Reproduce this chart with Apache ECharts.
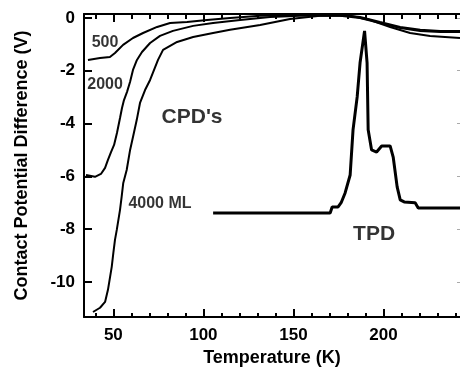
<!DOCTYPE html>
<html>
<head>
<meta charset="utf-8">
<script src="https://cdn.jsdelivr.net/npm/echarts@6/dist/echarts.min.js"></script>
<style>
html,body{margin:0;padding:0;background:#fff;}
#chart{width:460px;height:375px;}
</style>
</head>
<body>
<div id="chart"></div>
<script>
// Temperature (K) and CPD (V) readings
var cpd500T = [35.9, 42.6, 48.1, 50.9, 55.4, 60.9, 66.5, 74.3, 81.5, 90.9, 102.0, 114.8, 131.5, 153.7, 175.9, 187.0, 198.1, 209.3, 220.4, 231.5, 242.5];
var cpd500V = [-1.59, -1.52, -1.48, -1.33, -1.02, -0.76, -0.57, -0.34, -0.19, -0.15, -0.08, 0.0, 0.08, 0.11, 0.11, 0.04, -0.15, -0.34, -0.45, -0.49, -0.49];

var cpd2000T = [34.8, 39.8, 43.1, 45.4, 47.0, 48.7, 50.4, 52.0, 53.7, 54.8, 55.9, 57.6, 59.3, 60.9, 63.1, 65.9, 70.4, 75.9, 83.1, 94.3, 105.4, 120.4, 137.0, 153.7, 175.9, 187.0, 198.1, 209.3, 220.4, 231.5, 242.5];
var cpd2000V = [-5.95, -6.02, -5.91, -5.68, -5.38, -5.08, -4.81, -4.36, -3.79, -3.41, -3.11, -2.80, -2.42, -1.97, -1.59, -1.29, -0.95, -0.68, -0.49, -0.30, -0.19, -0.08, 0.04, 0.08, 0.08, 0.0, -0.19, -0.38, -0.49, -0.53, -0.53];

var cpd4000T = [38.7, 42.6, 45.4, 47.0, 49.1, 50.0, 50.9, 51.9, 53.7, 54.6, 55.5, 57.4, 59.3, 60.9, 63.0, 64.8, 67.6, 70.4, 74.8, 77.6, 85.4, 94.3, 105.4, 114.8, 131.5, 148.1, 164.8, 181.5, 192.6, 203.7, 214.8, 225.9, 242.5];
var cpd4000V = [-11.14, -10.98, -10.76, -10.30, -9.43, -8.90, -8.41, -8.03, -7.27, -6.78, -6.25, -5.76, -5.0, -4.51, -3.86, -3.22, -2.73, -2.35, -1.59, -1.21, -0.91, -0.72, -0.57, -0.45, -0.27, -0.04, 0.08, 0.08, -0.08, -0.34, -0.57, -0.68, -0.76];

var tpdT = [105.4, 170.4, 171.5, 174.8, 176.5, 178.7, 181.5, 183.1, 185.4, 187.0, 189.5, 190.9, 191.5, 193.4, 196.2, 199.0, 203.7, 205.4, 207.6, 209.3, 211.5, 217.6, 219.3, 242.5];
var tpdV = [-7.39, -7.39, -7.16, -7.16, -7.0, -6.63, -5.95, -4.24, -2.99, -1.70, -0.49, -1.70, -4.24, -5.0, -5.08, -4.85, -4.85, -5.27, -6.40, -6.89, -6.97, -7.0, -7.2, -7.2];

var xMajorTicks = [50, 100, 150, 200];
var xMinorTicks = [40, 60, 70, 80, 90, 110, 120, 130, 140, 160, 170, 180, 190, 210, 220, 230, 240];
var yMajorTicks = [-10, -8, -6, -4, -2, 0];

var annoText = ['500', '2000', '4000 ML'];
var annoT = [45.4, 45.4, 75.9];
var annoV = [-0.95, -2.54, -7.05];
var bigText = ['CPD\'s', 'TPD'];
var bigT = [93.7, 194.8];
var bigV = [-3.75, -8.18];

function zip(a, b) { return a.map(function (v, i) { return [v, b[i]]; }); }

var X_MIN = 33.7, X_MAX = 242.5, Y_MIN = -11.33, Y_MAX = 0.15;
var FONT = 'Liberation Sans, Arial, sans-serif';

function xAx(pos, ticks, len, showLine, showLabel, name) {
  return {
    type: 'value', position: pos, min: X_MIN, max: X_MAX,
    splitLine: { show: false },
    axisLine: { show: showLine, onZero: false, lineStyle: { color: '#000', width: 2 } },
    axisTick: { show: true, inside: true, length: len, customValues: ticks, lineStyle: { color: '#000', width: 2 } },
    axisLabel: { show: showLabel, customValues: ticks, color: '#000', fontFamily: FONT, fontWeight: 'bold', fontSize: 17, margin: 10 },
    name: name || '', nameLocation: 'middle', nameGap: 32,
    nameTextStyle: { color: '#000', fontFamily: FONT, fontWeight: 'bold', fontSize: 18 }
  };
}

var chart = echarts.init(document.getElementById('chart'));
chart.setOption({
  animation: false,
  backgroundColor: '#fff',
  grid: { left: 84, top: 14, right: 0, bottom: 58 },
  xAxis: [
    xAx('bottom', xMajorTicks, 8, true, true, 'Temperature (K)'),
    xAx('bottom', xMinorTicks, 4, false, false),
    xAx('top', xMajorTicks, 8, true, false),
    xAx('top', xMinorTicks, 5, false, false)
  ],
  yAxis: [
    {
      type: 'value', position: 'left', min: Y_MIN, max: Y_MAX,
      splitLine: { show: false },
      axisLine: { show: true, onZero: false, lineStyle: { color: '#000', width: 2 } },
      axisTick: { show: true, inside: true, length: 8, customValues: yMajorTicks, lineStyle: { color: '#000', width: 2 } },
      axisLabel: { customValues: yMajorTicks, color: '#000', fontFamily: FONT, fontWeight: 'bold', fontSize: 17, margin: 9 },
      name: 'Contact Potential Difference (V)', nameLocation: 'middle', nameGap: 53,
      nameTextStyle: { color: '#000', fontFamily: FONT, fontWeight: 'bold', fontSize: 18 }
    },
    {
      type: 'value', position: 'right', min: Y_MIN, max: Y_MAX,
      splitLine: { show: false },
      axisLine: { show: false },
      axisTick: { show: true, inside: true, length: 3, customValues: yMajorTicks, lineStyle: { color: '#aaa', width: 1 } },
      axisLabel: { show: false }
    }
  ],
  series: [
    { type: 'line', data: zip(cpd500T, cpd500V), symbol: 'none', lineStyle: { color: '#000', width: 2 } },
    { type: 'line', data: zip(cpd2000T, cpd2000V), symbol: 'none', lineStyle: { color: '#000', width: 2 } },
    { type: 'line', data: zip(cpd4000T, cpd4000V), symbol: 'none', lineStyle: { color: '#000', width: 2 } },
    { type: 'line', data: zip(tpdT, tpdV), symbol: 'none', lineStyle: { color: '#000', width: 3 } },
    {
      type: 'scatter', symbolSize: 0,
      data: annoText.map(function (t, i) { return { name: t, value: [annoT[i], annoV[i]] }; }),
      label: { show: true, position: 'inside', formatter: '{b}', color: '#000', fontFamily: FONT, fontWeight: 'bold', fontSize: 16 }
    },
    {
      type: 'scatter', symbolSize: 0,
      data: bigText.map(function (t, i) { return { name: t, value: [bigT[i], bigV[i]] }; }),
      label: { show: true, position: 'inside', formatter: '{b}', color: '#000', fontFamily: FONT, fontWeight: 'bold', fontSize: 21 }
    }
  ]
});
</script>
</body>
</html>
